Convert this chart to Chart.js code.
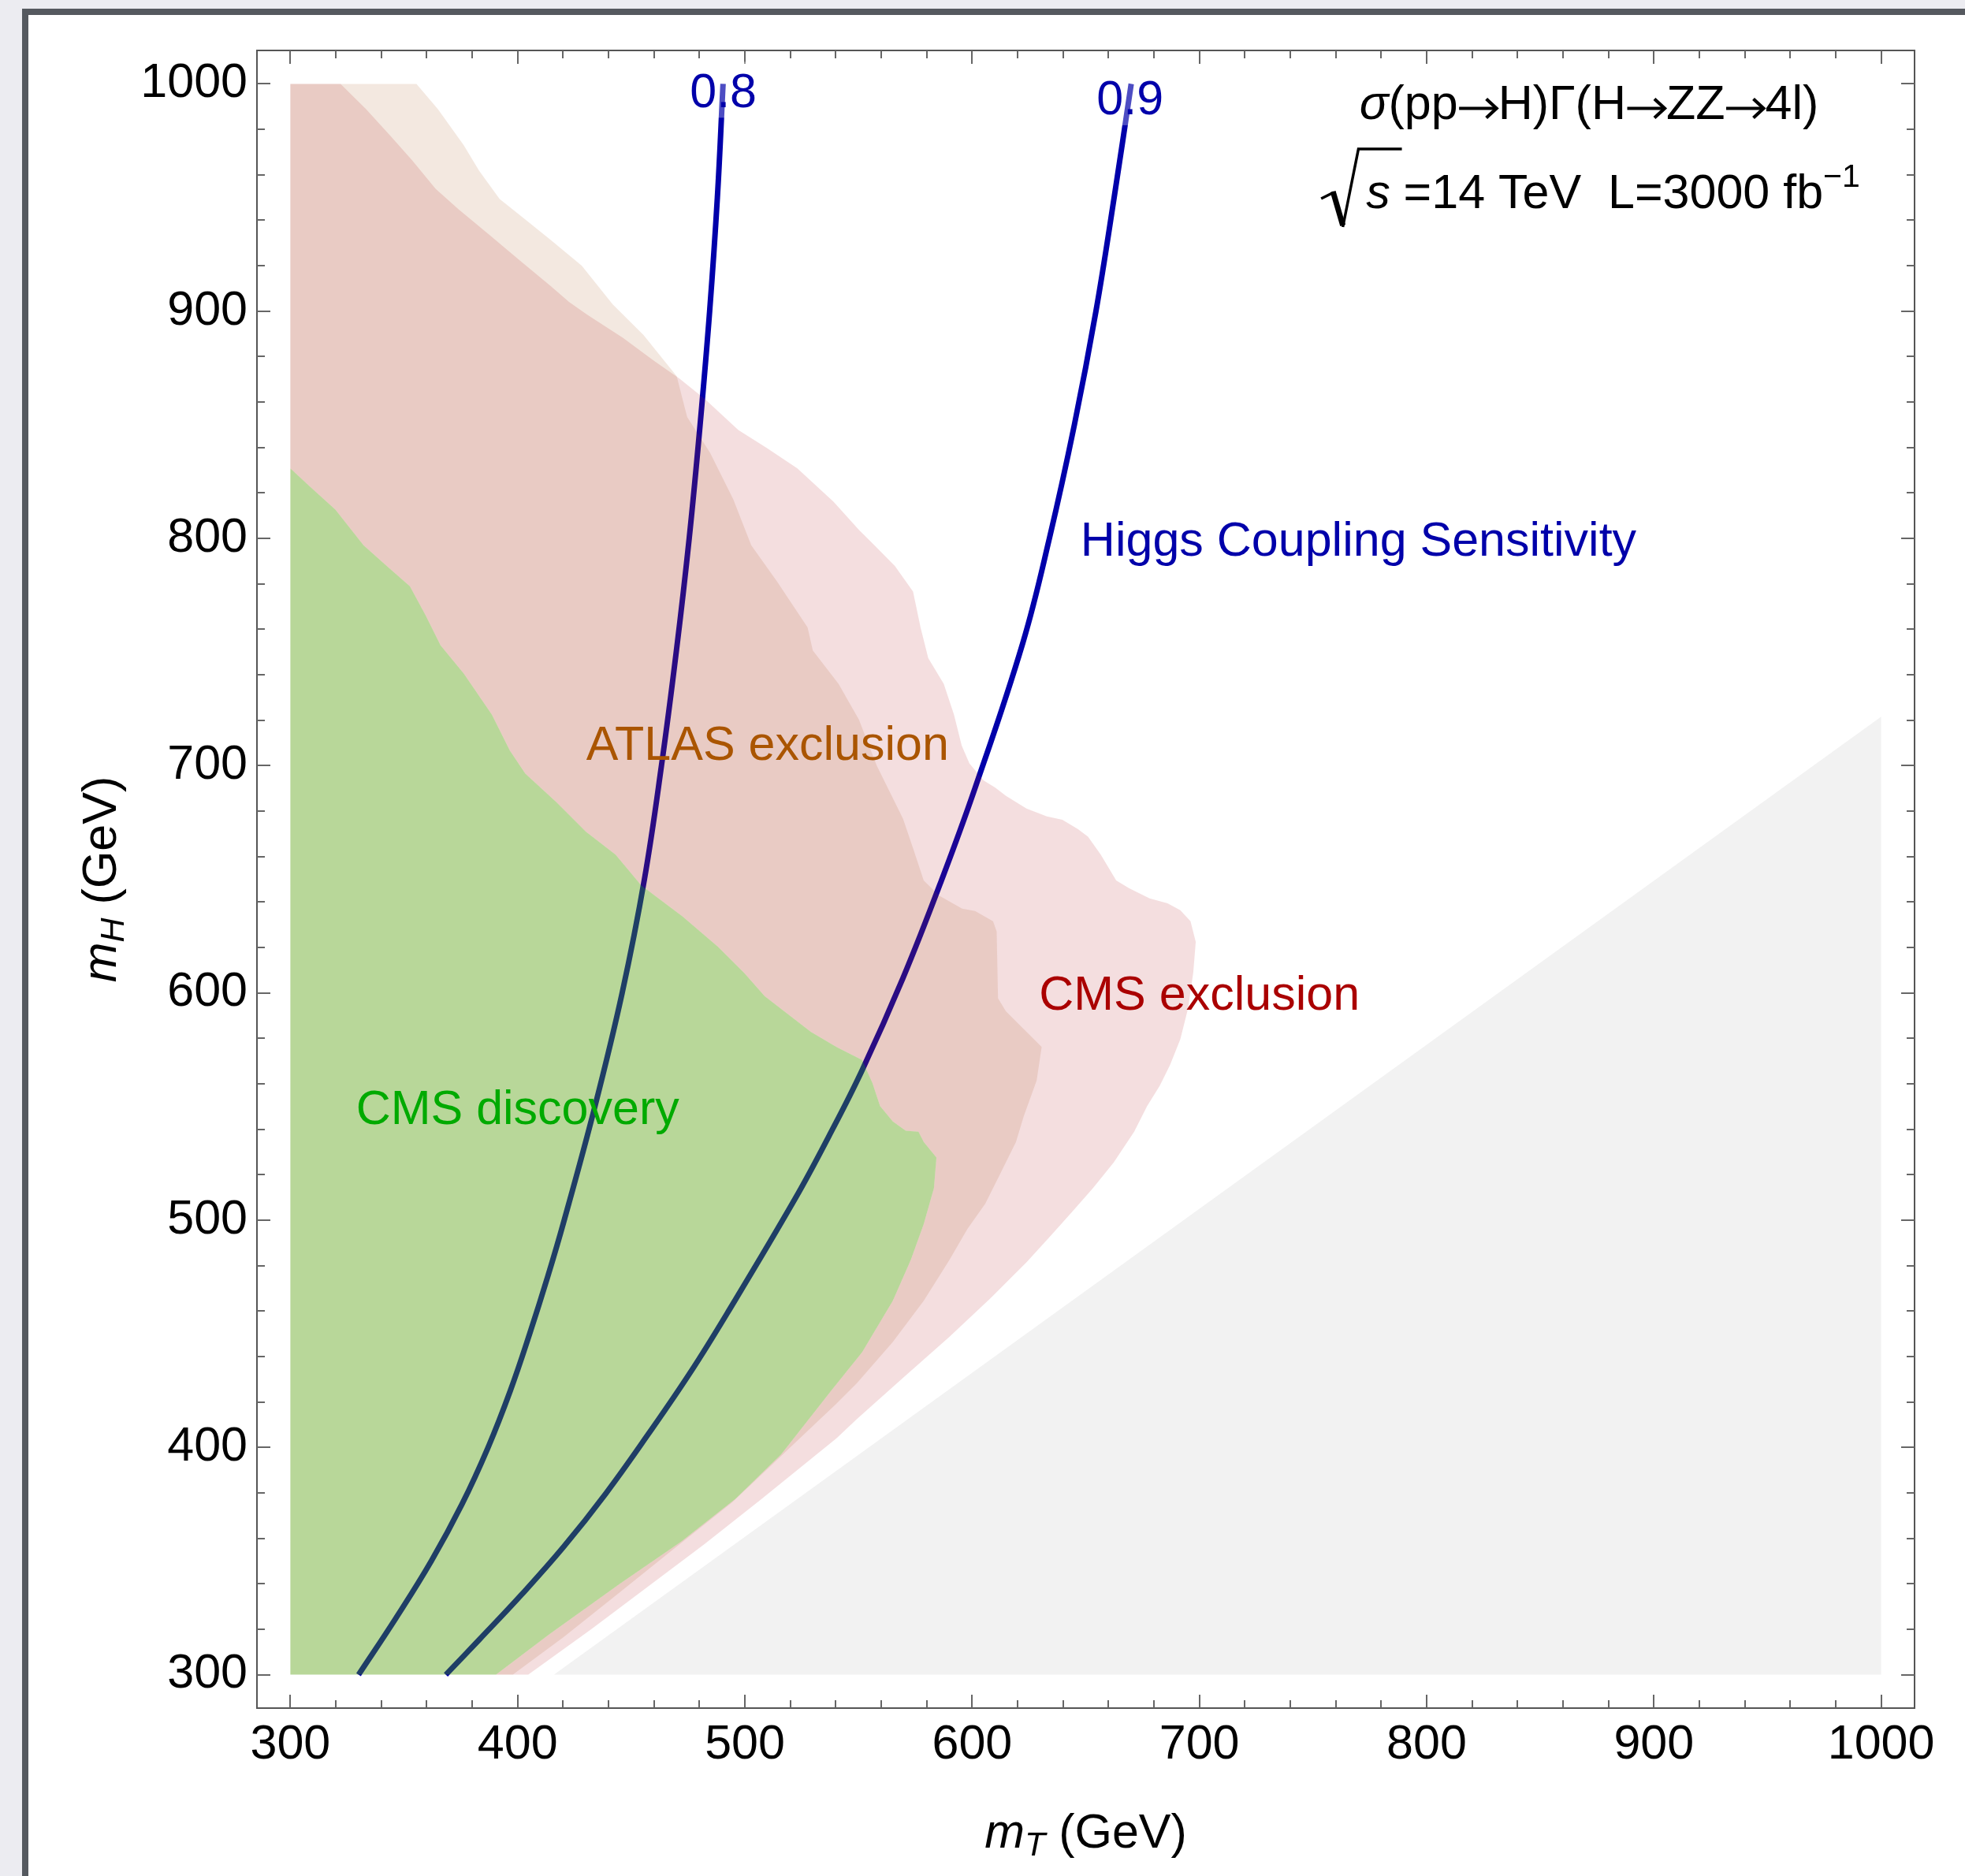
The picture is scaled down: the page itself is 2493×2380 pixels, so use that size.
<!DOCTYPE html>
<html>
<head>
<meta charset="utf-8">
<title>Higgs coupling sensitivity</title>
<script src="https://cdn.jsdelivr.net/npm/chart.js@4.4.1/dist/chart.umd.min.js"></script>
<style>
  html, body { margin:0; padding:0; width:2493px; height:2380px; overflow:hidden; background:#ECECF1; }
  #frame { position:absolute; left:28px; top:11px; width:2600px; height:2500px; border-left:8px solid #55595F; border-top:8px solid #55595F; background:#FFFFFF; }
  #chart { position:absolute; left:0; top:0; width:2493px; height:2380px; }
</style>
</head>
<body>
<div id="frame"></div>
<canvas id="chart" width="2493" height="2380"></canvas>
<script>
// ---------------- data ----------------
const xTickLabels = [300, 400, 500, 600, 700, 800, 900, 1000];
const yTickLabels = [300, 400, 500, 600, 700, 800, 900, 1000];

// Higgs coupling sensitivity contours [mT, mH]
const contour08 = [[330,300],[346.5,325],[362,350],[375.5,375],[387,400],[396.8,425],[405.3,450],[413.2,475],[420.5,500],[434,550],[446,600],[455.8,650],[463.3,700],[469.8,750],[475.5,800],[480.3,850],[484.5,900],[487.9,950],[490.4,1000]];
const contour09 = [[368.4,300],[383,315.3],[401.6,335.1],[420.2,356.2],[438.8,379.7],[457.4,405.7],[476,433],[492.2,459],[522.2,509.6],[537,537],[551.6,566],[569.6,606.6],[586.5,649.5],[601.3,690.2],[622.3,754],[634,800],[645,850],[654.5,900],[662.5,950],[670,1000]];
const contourLabels = [{text:'0.8', x:490.5, y:997.4}, {text:'0.9', x:669.5, y:994.1}];

// CMS discovery boundary (from left edge to bottom edge)
const discoveryEdge = [[300,830.8],[308.5,822.9],[319.8,812.7],[332.2,797],[342.4,787.9],[352.6,778.9],[359.3,766.5],[366.1,752.9],[376.3,740.5],[388.7,722.4],[396.6,706.6],[403.4,696.5],[417,684],[430,671],[443.1,660.8],[454.4,647.3],[472.5,633.7],[488.3,620.2],[499.6,608.9],[508.7,598.6],[529,582.9],[540.3,576.2],[551.6,570.5],[556.1,560.4],[559.5,550.2],[565.1,543.4],[570.8,539.4],[576.4,538.9],[578.7,534.4],[584.3,527.6],[583.2,514.1],[578.7,498.3],[573,482.5],[565.1,464.5],[551.6,441.9],[538,425],[516,397],[496,377.5],[472,358.6],[445,340],[414,317.8],[390.5,300]];

// ATLAS exclusion outer boundary (from top edge to bottom edge)
const atlasEdge = [[355.5,1000],[365,988.8],[376.3,973],[383.1,961.7],[392.1,949.3],[403.4,940.3],[414.7,931.2],[428.2,920],[441.8,903],[455.4,889.5],[470,871.4],[474.6,853.4],[484.7,837.6],[494.9,817.2],[502.8,797],[514.1,781.1],[523.1,767.6],[527.6,760.8],[529.9,750.7],[541.2,736],[550.2,720.2],[558.1,699.9],[563,690],[569.6,676.6],[574.2,663.1],[578.7,649.5],[585.5,642.8],[595.6,637.1],[601.3,636],[609.2,631.5],[610.8,627],[611.4,597.6],[614.8,592],[622.7,584.1],[630.6,576.2],[628.4,561.5],[622.7,545.7],[619.3,534.4],[612.6,520.9],[605.8,507.3],[597.9,496.1],[590,482.5],[578.7,464.5],[565.1,446.4],[549.3,428.3],[540.3,419.3],[519.4,399.5],[494.6,376],[469.8,356.2],[445,336.3],[420.2,316.5],[397.9,300]];

// CMS exclusion outer boundary (from top edge to bottom edge)
const cmsEdge = [[322.1,1000],[333.4,988.8],[344.7,976.4],[353.7,966.2],[363.9,953.8],[374,944.8],[387.6,933.5],[401.1,922.2],[414.7,910.9],[422.6,904.1],[430.5,898.5],[446.3,888.3],[459.9,878.2],[471.2,870.3],[482.5,861.2],[497.1,847.7],[509.6,839.8],[523.1,830.8],[539,816.1],[550.2,803.7],[557,797],[566,787.9],[574,776.6],[577.3,760.8],[580.7,747.3],[587.5,736],[592,722.5],[595.4,708.9],[598.8,701],[605,693.5],[610.3,690.2],[614.8,686.8],[623.9,681.1],[632.9,677.7],[639.7,676.2],[646.5,672.1],[651,668.7],[656.6,660.8],[663.4,649.5],[669,646.1],[678.1,641.6],[686,639.4],[691.6,636.4],[696.1,631.5],[698.4,622.4],[697.3,608.9],[695,593.1],[691.6,579.6],[687.1,568.3],[682.6,559.2],[677,550.2],[671.3,538.9],[662.3,525.4],[653.2,514.1],[644.2,503.9],[635.2,493.8],[623.9,481.4],[608,465.6],[590,448.7],[569.6,430.6],[549.3,412.5],[540.3,404],[507,377],[482.2,357.4],[457.4,338.8],[432.6,320.2],[404.7,300]];

// kinematically excluded region
const kinematicLimit = [[416,300],[1000,721.5],[1000,300]];

const regionLabels = [
  {text:'Higgs Coupling Sensitivity', x:770, y:800, color:'rgb(0,0,170)'},
  {text:'ATLAS exclusion', x:510, y:710, color:'rgb(170,85,0)'},
  {text:'CMS exclusion', x:700, y:600, color:'rgb(170,0,0)'},
  {text:'CMS discovery', x:400, y:550, color:'rgb(0,170,0)'}
];

// ---------------- setup ----------------
const FONT = "'Liberation Sans', Arial, Helvetica, sans-serif";
const FS = 61;
const AX_MIN = 285.3, AX_MAX = 1014.7;
Chart.defaults.font.family = FONT;

const pts = a => a.map(p => ({x: p[0], y: p[1]}));
const rev = a => a.slice().reverse();
const discoveryPoly = [[300,300]].concat(discoveryEdge);
const atlasPoly = [[300,1000]].concat(atlasEdge, rev(discoveryEdge));
const cmsPoly = [[300,1000]].concat(cmsEdge, rev(discoveryEdge));

function polygonDataset(label, data, color, order) {
  return {label, data: pts(data), fill: 'shape', backgroundColor: color, borderColor: 'rgba(0,0,0,0)',
          borderWidth: 0, pointRadius: 0, pointHoverRadius: 0, tension: 0, order};
}
function contourDataset(label, data) {
  return {label, data: pts(data), fill: false, borderColor: 'rgb(0,0,170)', borderWidth: 7,
          pointRadius: 0, pointHoverRadius: 0, tension: 0.4, borderCapStyle: 'butt', order: 10};
}

const tickFont = {family: FONT, size: FS, lineHeight: 1.2};
function mkScale(position, size, showLabels, tickValues) {
  const horiz = position === 'top' || position === 'bottom';
  return {
    type: 'linear', position, min: AX_MIN, max: AX_MAX,
    grid: {display: false, drawTicks: false},
    border: {display: true, color: '#555', width: 2},
    ticks: {display: showLabels, font: tickFont, color: '#000', padding: horiz ? 11 : 12,
            maxRotation: 0, autoSkip: false, callback: v => String(v)},
    afterBuildTicks: s => { s.ticks = tickValues.map(v => ({value: v})); },
    afterFit: s => { if (horiz) s.height = size; else s.width = size; }
  };
}

// ---- drawing helpers ----
function drawRuns(ctx, runs, cx, by) {
  const widths = runs.map(r => {
    if (r.w !== undefined) return r.w;
    ctx.font = r.font; return ctx.measureText(r.text).width;
  });
  const total = widths.reduce((a, b) => a + b, 0);
  let x = cx - total / 2;
  runs.forEach((r, i) => {
    if (r.draw) r.draw(ctx, x, by);
    else { ctx.font = r.font; ctx.fillText(r.text, x, by + (r.dy || 0)); }
    x += widths[i];
  });
}
function drawArrow(ctx, x, by) {
  const y = by - 13.5;
  ctx.save();
  ctx.strokeStyle = '#000'; ctx.lineWidth = 4.2; ctx.lineCap = 'butt'; ctx.lineJoin = 'miter';
  ctx.beginPath(); ctx.moveTo(x + 1.5, y); ctx.lineTo(x + 47.5, y); ctx.stroke();
  ctx.beginPath(); ctx.moveTo(x + 36, y - 12); ctx.lineTo(x + 49, y); ctx.lineTo(x + 36, y + 12); ctx.stroke();
  ctx.restore();
}
function drawRadical(ctx, x, by) {
  ctx.save();
  ctx.strokeStyle = '#000'; ctx.lineCap = 'butt'; ctx.lineJoin = 'miter';
  ctx.lineWidth = 3.5;
  ctx.beginPath(); ctx.moveTo(x, by - 12); ctx.lineTo(x + 16, by - 20); ctx.stroke();
  ctx.lineWidth = 7;
  ctx.beginPath(); ctx.moveTo(x + 15, by - 21); ctx.lineTo(x + 27.5, by + 22); ctx.stroke();
  ctx.lineWidth = 3.5;
  ctx.beginPath(); ctx.moveTo(x + 27.5, by + 24); ctx.lineTo(x + 47.3, by - 75); ctx.lineTo(x + 102.4, by - 75); ctx.stroke();
  ctx.restore();
}

const reg = `${FS}px ${FONT}`;
const ital = `italic ${FS}px ${FONT}`;
const subItal = `italic 43px ${FONT}`;

const overlay = {
  id: 'overlay',
  afterDraw(chart) {
    const {ctx, chartArea: a, scales: {x, y}} = chart;
    ctx.save();
    // inward ticks on all four sides
    ctx.strokeStyle = '#666'; ctx.lineWidth = 2;
    ctx.beginPath();
    const x0 = xTickLabels[0], x1 = xTickLabels[xTickLabels.length - 1];
    for (let v = x0; v <= x1 + 0.01; v += 20) {
      const L = xTickLabels.includes(v) ? 17 : 10;
      const p = Math.round(x.getPixelForValue(v));
      ctx.moveTo(p, a.bottom); ctx.lineTo(p, a.bottom - L);
      ctx.moveTo(p, a.top); ctx.lineTo(p, a.top + L);
    }
    const y0 = yTickLabels[0], y1 = yTickLabels[yTickLabels.length - 1];
    for (let v = y0; v <= y1 + 0.01; v += 20) {
      const L = yTickLabels.includes(v) ? 17 : 10;
      const p = Math.round(y.getPixelForValue(v));
      ctx.moveTo(a.left, p); ctx.lineTo(a.left + L, p);
      ctx.moveTo(a.right, p); ctx.lineTo(a.right - L, p);
    }
    ctx.stroke();

    ctx.textAlign = 'left'; ctx.textBaseline = 'alphabetic';
    // contour labels with translucent white box
    contourLabels.forEach(l => {
      const px = x.getPixelForValue(l.x), py = y.getPixelForValue(l.y);
      ctx.font = reg;
      const w = ctx.measureText(l.text).width;
      ctx.fillStyle = 'rgba(255,255,255,0.3)';
      ctx.fillRect(px - w / 2 - 4, py - 35.5, w + 8, 71);
      ctx.fillStyle = 'rgb(0,0,170)';
      ctx.fillText(l.text, px - w / 2, py + 0.358 * FS);
    });
    // region labels
    regionLabels.forEach(l => {
      const px = x.getPixelForValue(l.x), py = y.getPixelForValue(l.y);
      ctx.font = reg;
      const w = ctx.measureText(l.text).width;
      ctx.fillStyle = l.color;
      ctx.fillText(l.text, px - w / 2, py + 0.358 * FS);
    });

    // annotation (top right)
    ctx.fillStyle = '#000';
    const acx = a.right - 413;
    drawRuns(ctx, [
      {text: 'σ', font: ital}, {text: '(pp', font: reg}, {w: 51, draw: drawArrow},
      {text: 'H)Γ(H', font: reg}, {w: 51, draw: drawArrow}, {text: 'ZZ', font: reg},
      {w: 51, draw: drawArrow}, {text: '4l)', font: reg}
    ], acx, a.top + 87);
    drawRuns(ctx, [
      {w: 57, draw: drawRadical}, {text: 's', font: ital}, {text: ' =14 TeV  L=3000 fb', font: reg},
      {text: '\u22121', font: `41px ${FONT}`, dy: -27}
    ], acx + 2, a.top + 200);

    // axis titles
    const cxp = (a.left + a.right) / 2, cyp = (a.top + a.bottom) / 2;
    drawRuns(ctx, [{text: 'm', font: ital}, {text: 'T', font: subItal, dy: 10}, {text: ' (GeV)', font: reg}], cxp, a.bottom + 176.6);
    ctx.translate(a.left - 179, cyp);
    ctx.rotate(-Math.PI / 2);
    drawRuns(ctx, [{text: 'm', font: ital}, {text: 'H', font: subItal, dy: 10}, {text: ' (GeV)', font: reg}], 0, 0);
    ctx.restore();
  }
};

new Chart(document.getElementById('chart'), {
  type: 'line',
  data: {
    datasets: [
      polygonDataset('CMS discovery', discoveryPoly, 'rgba(77,155,0,0.4)', 2),
      polygonDataset('ATLAS exclusion', atlasPoly, 'rgba(155,63,0,0.12)', 4),
      polygonDataset('CMS exclusion', cmsPoly, 'rgba(182,35,42,0.15)', 6),
      polygonDataset('kinematic limit', kinematicLimit, '#F2F2F2', 8),
      contourDataset('0.8', contour08),
      contourDataset('0.9', contour09)
    ]
  },
  options: {
    responsive: false, devicePixelRatio: 1, animation: false, events: [],
    layout: {padding: 0},
    plugins: {legend: {display: false}, tooltip: {enabled: false}, title: {display: false}},
    scales: {
      x: mkScale('bottom', 213, true, xTickLabels),
      x2: mkScale('top', 64, false, xTickLabels),
      y: mkScale('left', 326, true, yTickLabels),
      y2: mkScale('right', 64, false, yTickLabels)
    }
  },
  plugins: [overlay]
});
</script>
</body>
</html>
